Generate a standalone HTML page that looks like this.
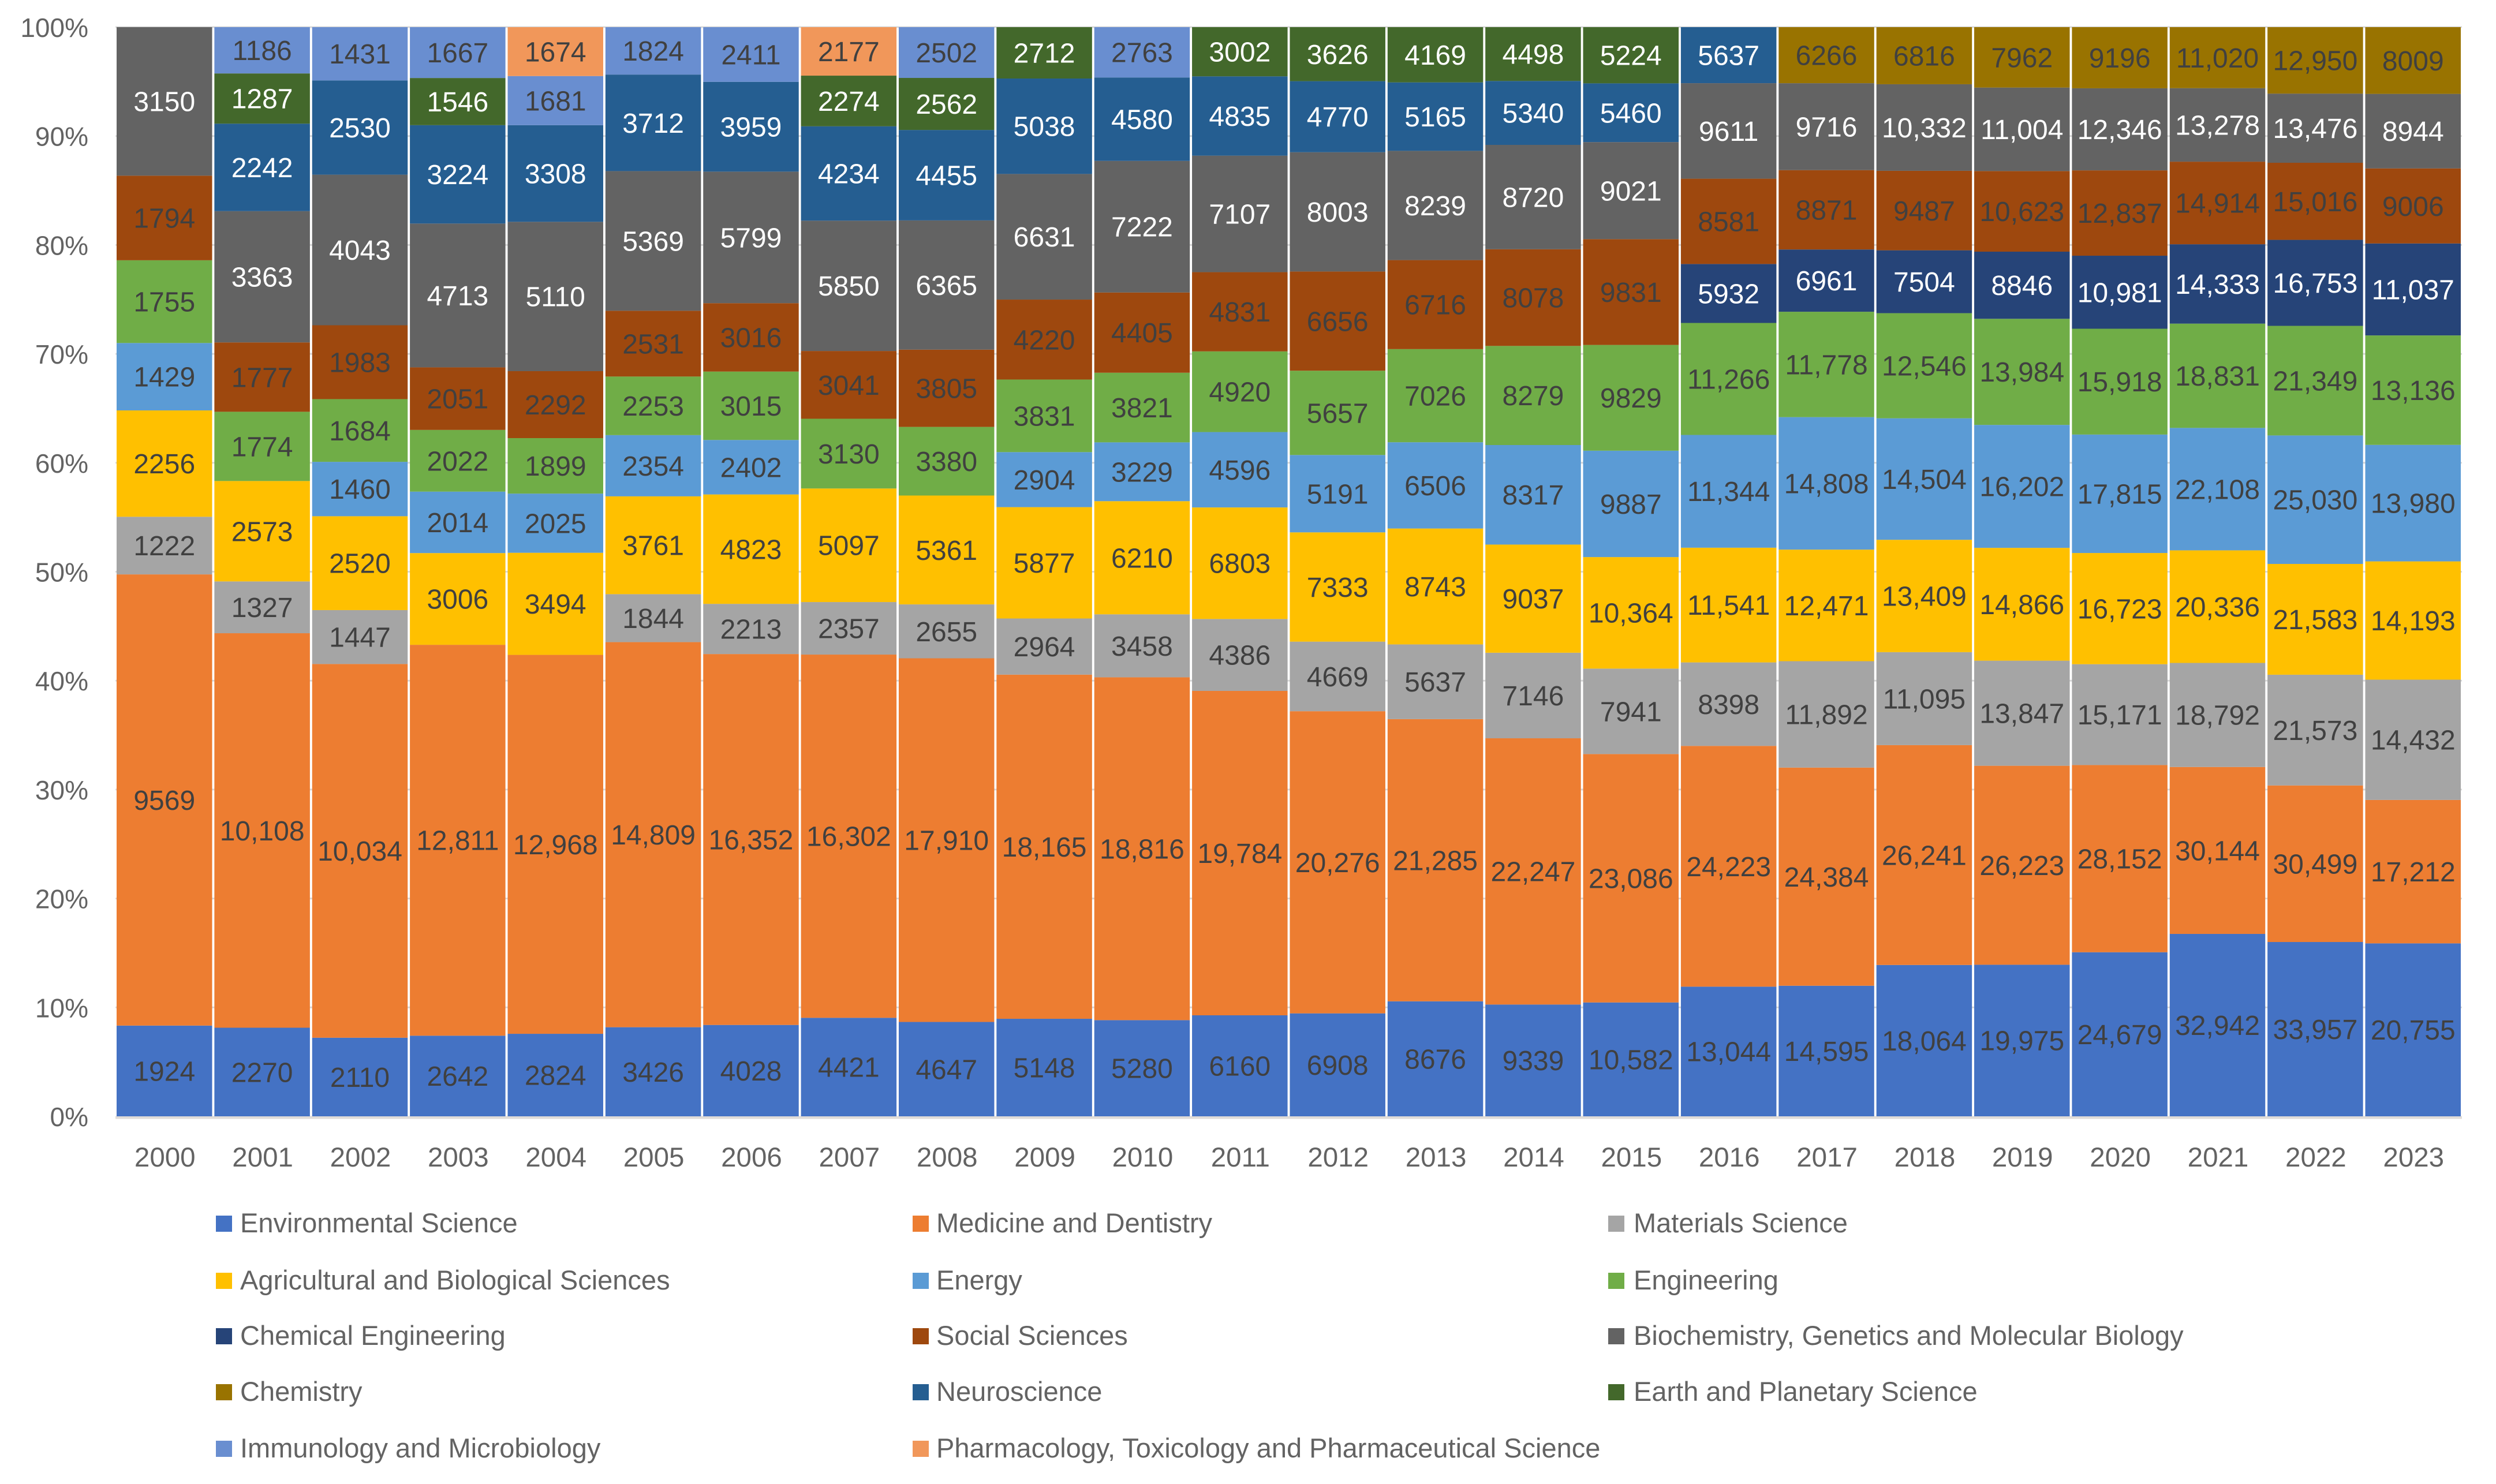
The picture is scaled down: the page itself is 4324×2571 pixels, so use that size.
<!DOCTYPE html>
<html lang="en">
<head>
<meta charset="utf-8">
<title>Publications by subject area, 2000–2023</title>
<style>
html,body{margin:0;padding:0;background:#fff;width:4324px;height:2571px;overflow:hidden}
svg{display:block;font-family:"Liberation Sans",sans-serif}
</style>
</head>
<body>
<svg id="chart" xmlns="http://www.w3.org/2000/svg" width="4324" height="2571" viewBox="0 0 4324 2571">
<rect x="0" y="0" width="4324" height="2571" fill="#ffffff"/>
<g id="grid"></g>
<g id="bars"></g>
<g id="values"></g>
<g id="yaxis"></g>
<g id="xaxis"></g>
<g id="legend"></g>
</svg>
<script>
const years = [2000,2001,2002,2003,2004,2005,2006,2007,2008,2009,2010,2011,2012,2013,2014,2015,2016,2017,2018,2019,2020,2021,2022,2023];
const yTickLabels = ["0%","10%","20%","30%","40%","50%","60%","70%","80%","90%","100%"];
const yTickValues = [0,0.1,0.2,0.3,0.4,0.5,0.6,0.7,0.8,0.9,1];

const seriesNames = ["Environmental Science","Medicine and Dentistry","Materials Science","Agricultural and Biological Sciences","Energy","Engineering","Chemical Engineering","Social Sciences","Biochemistry, Genetics and Molecular Biology","Chemistry","Neuroscience","Earth and Planetary Science","Immunology and Microbiology","Pharmacology, Toxicology and Pharmaceutical Science"];
const seriesColors = ["#4472C4","#ED7D31","#A5A5A5","#FFC000","#5B9BD5","#70AD47","#264478","#9E480E","#636363","#997300","#255E91","#43682B","#698ED0","#F1975A"];
const labelColors = ["#404040","#404040","#404040","#404040","#404040","#404040","#ffffff","#404040","#ffffff","#404040","#ffffff","#ffffff","#404040","#404040"];

const environmental = [1924,2270,2110,2642,2824,3426,4028,4421,4647,5148,5280,6160,6908,8676,9339,10582,13044,14595,18064,19975,24679,32942,33957,20755];
const medicine = [9569,10108,10034,12811,12968,14809,16352,16302,17910,18165,18816,19784,20276,21285,22247,23086,24223,24384,26241,26223,28152,30144,30499,17212];
const materials = [1222,1327,1447,null,null,1844,2213,2357,2655,2964,3458,4386,4669,5637,7146,7941,8398,11892,11095,13847,15171,18792,21573,14432];
const agricultural = [2256,2573,2520,3006,3494,3761,4823,5097,5361,5877,6210,6803,7333,8743,9037,10364,11541,12471,13409,14866,16723,20336,21583,14193];
const energy = [1429,null,1460,2014,2025,2354,2402,null,null,2904,3229,4596,5191,6506,8317,9887,11344,14808,14504,16202,17815,22108,25030,13980];
const engineering = [1755,1774,1684,2022,1899,2253,3015,3130,3380,3831,3821,4920,5657,7026,8279,9829,11266,11778,12546,13984,15918,18831,21349,13136];
const chemicalEngineering = [null,null,null,null,null,null,null,null,null,null,null,null,null,null,null,null,5932,6961,7504,8846,10981,14333,16753,11037];
const social = [1794,1777,1983,2051,2292,2531,3016,3041,3805,4220,4405,4831,6656,6716,8078,9831,8581,8871,9487,10623,12837,14914,15016,9006];
const biochemistry = [3150,3363,4043,4713,5110,5369,5799,5850,6365,6631,7222,7107,8003,8239,8720,9021,9611,9716,10332,11004,12346,13278,13476,8944];
const chemistry = [null,null,null,null,null,null,null,null,null,null,null,null,null,null,null,null,null,6266,6816,7962,9196,11020,12950,8009];
const neuroscience = [null,2242,2530,3224,3308,3712,3959,4234,4455,5038,4580,4835,4770,5165,5340,5460,5637,null,null,null,null,null,null,null];
const earth = [null,1287,null,1546,null,null,null,2274,2562,2712,null,3002,3626,4169,4498,5224,null,null,null,null,null,null,null,null];
const immunology = [null,1186,1431,1667,1681,1824,2411,null,2502,null,2763,null,null,null,null,null,null,null,null,null,null,null,null,null];
const pharmacology = [null,null,null,null,1674,null,null,2177,null,null,null,null,null,null,null,null,null,null,null,null,null,null,null,null];

const seriesValues = [environmental,medicine,materials,agricultural,energy,engineering,chemicalEngineering,social,biochemistry,chemistry,neuroscience,earth,immunology,pharmacology];

const NS = "http://www.w3.org/2000/svg";
const plot = {left:202, right:4263, top:47, bottom:1934};
const barWidth = 165.5;
const pitch = (plot.right - plot.left - barWidth) / (years.length - 1);
const xCenter = i => plot.left + barWidth / 2 + pitch * i;
const yScale = f => plot.bottom - f * (plot.bottom - plot.top);
const slug = s => s.toLowerCase().replace(/[^a-z0-9]+/g, "-");
const fmt = v => v >= 10000 ? v.toLocaleString("en-US") : String(v);
const make = (tag, parent) => { const el = document.createElementNS(NS, tag); parent.appendChild(el); return el; };

const grid = document.getElementById("grid");
const bars = document.getElementById("bars");
const values = document.getElementById("values");
const yaxis = document.getElementById("yaxis");
const xaxis = document.getElementById("xaxis");
const legend = document.getElementById("legend");

yTickValues.forEach((t, k) => {
  const y = yScale(t);
  const line = make("line", grid);
  
  
  line.setAttribute("x1", plot.left - 2);
  line.setAttribute("x2", plot.right + 2);
  line.setAttribute("y1", k === 0 ? y + 2 : y);
  line.setAttribute("y2", k === 0 ? y + 2 : y);
  line.setAttribute("stroke", k === 0 ? "#e0dcd8" : "#d9d9d9");
  line.setAttribute("stroke-width", k === 0 ? 5 : 3);
  const lab = make("text", yaxis);
  
  
  lab.setAttribute("x", 153);
  lab.setAttribute("y", y + 17);
  lab.setAttribute("text-anchor", "end");
  lab.setAttribute("font-size", 46);
  lab.setAttribute("fill", "#636363");
  lab.textContent = yTickLabels[k];
});

years.forEach((year, i) => {
  let total = 0;
  seriesValues.forEach(s => { total += s[i] || 0; });
  let cum = 0;
  seriesValues.forEach((s, j) => {
    const v = s[i];
    if (v === null || v === undefined) return;
    const y0 = yScale(cum / total);
    cum += v;
    const y1 = yScale(cum / total);
    const rect = make("rect", bars);
    
    
    rect.setAttribute("x", xCenter(i) - barWidth / 2);
    rect.setAttribute("width", barWidth);
    rect.setAttribute("y", y1);
    rect.setAttribute("height", y0 - y1);
    rect.setAttribute("fill", seriesColors[j]);
    const t = make("text", values);
    
    
    t.setAttribute("x", xCenter(i));
    t.setAttribute("y", (y0 + y1) / 2 + 17);
    t.setAttribute("text-anchor", "middle");
    t.setAttribute("font-size", 48);
    t.setAttribute("fill", labelColors[j]);
    t.textContent = fmt(v);
  });
  const xl = make("text", xaxis);
  
  
  xl.setAttribute("x", xCenter(i) + 1);
  xl.setAttribute("y", 2021);
  xl.setAttribute("text-anchor", "middle");
  xl.setAttribute("font-size", 47.5);
  xl.setAttribute("fill", "#636363");
  xl.textContent = year;
});

const legendCols = [374, 1581, 2786];
const legendTextCols = [416, 1622, 2830];
const legendRows = [2120, 2219, 2315, 2412, 2510];
seriesNames.forEach((name, j) => {
  const row = legendRows[Math.floor(j / 3)];
  const swatch = make("rect", legend);
  
  
  swatch.setAttribute("x", legendCols[j % 3]);
  swatch.setAttribute("y", row - 14);
  swatch.setAttribute("width", 28);
  swatch.setAttribute("height", 28);
  swatch.setAttribute("fill", seriesColors[j]);
  const label = make("text", legend);
  
  
  label.setAttribute("x", legendTextCols[j % 3]);
  label.setAttribute("y", row + 15);
  label.setAttribute("font-size", 47);
  label.setAttribute("fill", "#636363");
  label.textContent = name;
});
</script>
</body>
</html>
